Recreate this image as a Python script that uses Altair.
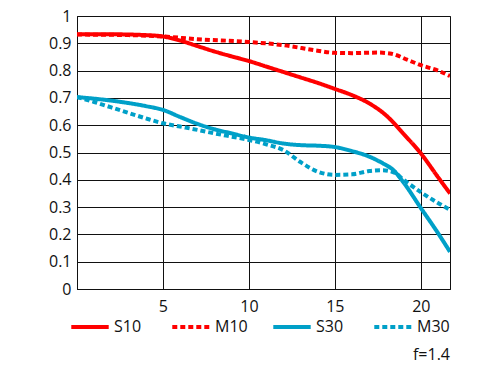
import altair as alt
import pandas as pd

series_order = ["S10", "M10", "S30", "M30"]

s10_x = [0, 2, 4, 5, 6, 7, 8, 9, 10, 11, 12, 13, 14, 15, 16, 17, 18, 19, 20, 21, 21.7]
s10_y = [0.933, 0.933, 0.930, 0.925, 0.91, 0.89, 0.87, 0.852, 0.835, 0.815, 0.795, 0.775, 0.755, 0.733, 0.71, 0.68, 0.635, 0.568, 0.497, 0.41, 0.35]

m10_x = [0, 3, 5, 7, 10, 12, 14, 15, 16, 17.5, 18.3, 19.2, 20, 21, 21.7]
m10_y = [0.932, 0.930, 0.925, 0.915, 0.905, 0.893, 0.873, 0.865, 0.864, 0.866, 0.862, 0.84, 0.82, 0.80, 0.78]

s30_x = [0, 2, 4, 5, 6, 7, 8, 9, 10, 11, 12, 13, 14, 15, 16, 17, 17.8, 18.4, 19, 20, 21, 21.7]
s30_y = [0.703, 0.69, 0.67, 0.656, 0.63, 0.605, 0.585, 0.57, 0.555, 0.545, 0.533, 0.527, 0.525, 0.52, 0.505, 0.485, 0.46, 0.436, 0.39, 0.297, 0.205, 0.136]

m30_x = [0, 1, 2, 3, 4, 5, 6, 7, 8, 9, 10, 11, 12, 13, 14, 15, 16, 17, 17.8, 18.5, 19, 20, 21, 21.7]
m30_y = [0.703, 0.685, 0.665, 0.645, 0.625, 0.607, 0.595, 0.583, 0.57, 0.558, 0.546, 0.53, 0.509, 0.465, 0.43, 0.418, 0.42, 0.432, 0.435, 0.425, 0.40, 0.355, 0.315, 0.29]

x_ticks = [5, 10, 15, 20]
y_ticks = [0, 0.1, 0.2, 0.3, 0.4, 0.5, 0.6, 0.7, 0.8, 0.9, 1]

rows = []
for name, xs, ys in [("S10", s10_x, s10_y), ("M10", m10_x, m10_y),
                     ("S30", s30_x, s30_y), ("M30", m30_x, m30_y)]:
    for xv, yv in zip(xs, ys):
        rows.append({"series": name, "x": xv, "y": yv})
df = pd.DataFrame(rows)

RED = "#ff0000"
BLUE = "#00a0c8"
FONT = "Open Sans"

legend_cfg = dict(title=None, orient="none", legendX=-8, legendY=290,
                  direction="horizontal", columns=4,
                  symbolType="stroke", symbolSize=1400,
                  symbolStrokeWidth=4, labelFontSize=16,
                  labelFont=FONT, labelColor="#111",
                  labelOffset=3, columnPadding=17,
                  gridAlign="all")

chart = alt.Chart(df).mark_line(strokeWidth=4, interpolate="monotone", clip=True).encode(
    x=alt.X("x:Q", scale=alt.Scale(domain=[0, 21.7], nice=False, zero=False),
            axis=alt.Axis(values=x_ticks, title=None, grid=True, ticks=False,
                          labelFontSize=16, labelPadding=9, labelColor="#111",
                          domainColor="#111", gridColor="#111", gridWidth=1,
                          labelFont=FONT)),
    y=alt.Y("y:Q", scale=alt.Scale(domain=[0, 1], nice=False),
            axis=alt.Axis(values=y_ticks, title=None, grid=True, ticks=False,
                          labelFontSize=16, labelPadding=6, labelColor="#111",
                          domainColor="#111", gridColor="#111", gridWidth=1,
                          labelFont=FONT, format=".1~f")),
    color=alt.Color("series:N", sort=series_order,
                    scale=alt.Scale(domain=series_order, range=[RED, RED, BLUE, BLUE]),
                    legend=alt.Legend(**legend_cfg)),
    strokeDash=alt.StrokeDash("series:N", sort=series_order,
                              scale=alt.Scale(domain=series_order,
                                              range=[[1, 0], [5, 3], [1, 0], [5, 3]]),
                              legend=alt.Legend(**legend_cfg)),
    order=alt.Order("x:Q"),
).properties(
    width=373, height=273,
    title=alt.TitleParams("f=1.4", orient="bottom", anchor="end", fontSize=16,
                          font=FONT, fontWeight="normal", color="#111", offset=12),
    autosize=alt.AutoSizeParams(type="none"),
    padding={"left": 77, "top": 16, "right": 50, "bottom": 86},
).configure_view(stroke="#111", strokeWidth=1)

chart.save("out.html", embed_options={"renderer": "svg", "actions": False})
